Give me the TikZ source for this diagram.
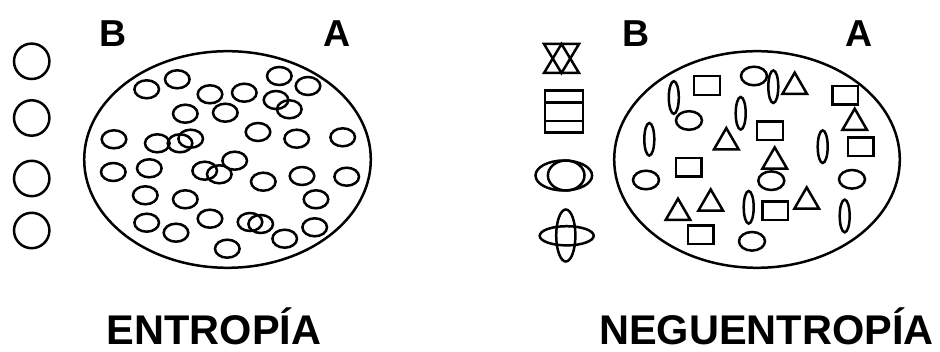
\documentclass[tikz,border=0pt]{standalone}
\usepackage{fontspec}
\setmainfont{Liberation Sans}
\tikzset{
  shape line/.style = {draw, line width=2.5pt},
  side label/.style = {font=\fontsize{37.5}{40}\selectfont\bfseries, anchor=base, inner sep=0pt},
  title label/.style = {font=\fontsize{41.5}{44}\selectfont\bfseries, anchor=base, inner sep=0pt}
}
\begin{document}
\begin{tikzpicture}[x=1pt, y=-1pt]
\useasboundingbox (0,0) rectangle (940,352);

% entropia: loose circles and the full container
\foreach \cy in {61.3,118,178.5,230.5}
  \draw[shape line] (31.7,\cy) circle (17.7);
\draw[shape line] (227.5,159.5) ellipse [x radius=143.3, y radius=108.3];
\foreach \px/\py in {146.7/89.3, 177.3/79.3, 210/94.3, 244.3/92.7, 279.3/76, 308/86,
    276/100, 289.3/109.3, 185.3/113.7, 225.3/112.7, 114/139.3, 157.3/143.3,
    180/143.3, 190.7/138.7, 258/132, 296.7/138.7, 342.7/137.3, 113.3/172,
    149.3/168.3, 204.7/170.7, 219.3/174.3, 234.7/160.7, 263.3/181.7, 302/176,
    346.7/176.7, 145.3/195.3, 185.3/199.3, 316/199.3, 146.7/222.7, 176/232.7,
    210/218.7, 250/222, 260.7/224, 284.7/238.7, 314.7/227.3, 227.3/248.7}
  \draw[shape line] (\px,\py) ellipse [x radius=12.3, y radius=9];

\node[side label] (leftB) at (113.5,47) {B};
\node[side label] (leftA) at (337.5,47) {A};

% neguentropia: legend of composed figures
\draw[shape line] (544,44) -- (579,44) -- (561.5,73) -- cycle;
\draw[shape line] (544,73) -- (579,73) -- (561.5,44) -- cycle;
\draw[shape line] (545,90.5) rectangle (583,121);
\draw[shape line] (545,102.5) rectangle (583,132.5);
\draw[shape line] (563.8,175.5) ellipse [x radius=28.3, y radius=15];
\draw[shape line] (566.2,175.5) ellipse [x radius=18.3, y radius=15];
\draw[shape line] (566.7,235.8) ellipse [x radius=27, y radius=9.6];
\draw[shape line] (565.8,235.5) ellipse [x radius=9.6, y radius=26];

% neguentropia: ordered container
\draw[shape line] (757,159.5) ellipse [x radius=142.8, y radius=108.3];
\foreach \px/\py in {673.8/97.5, 773.3/86.7, 740.7/113.3, 649.3/139.3,
    822.7/146.7, 748.7/207.3, 844.7/216}
  \draw[shape line] (\px,\py) ellipse [x radius=5, y radius=16.3];
\foreach \px/\py in {754/76, 689/120.5, 646/180, 771.3/180.7, 852/179.3, 752/241.3}
  \draw[shape line] (\px,\py) ellipse [x radius=13, y radius=9.3];
\foreach \px/\py in {707/85.5, 845.3/95.3, 770/130.7, 860.7/146.7,
    688.7/167.3, 775.3/210.7, 700.7/234.7}
  \draw[shape line] (\px-12.8,\py-9.3) rectangle ++(25.6,18.6);
\foreach \px/\py in {794.7/83.3, 854.7/119.3, 726.3/138.7, 774.7/158,
    710.7/200, 678/209.3, 806.7/198}
  \draw[shape line] (\px-12.3,\py+10.6) -- ++(24.6,0) -- ++(-12.3,-21.2) -- cycle;

\node[side label] (rightB) at (636.5,47) {B};
\node[side label] (rightA) at (859.5,47) {A};

% titles
\node[title label] (entropia) at (214,345) {ENTROPÍA};
\node[title label] (neguentropia) at (766.5,345) {NEGUENTROPÍA};
\end{tikzpicture}
\end{document}
